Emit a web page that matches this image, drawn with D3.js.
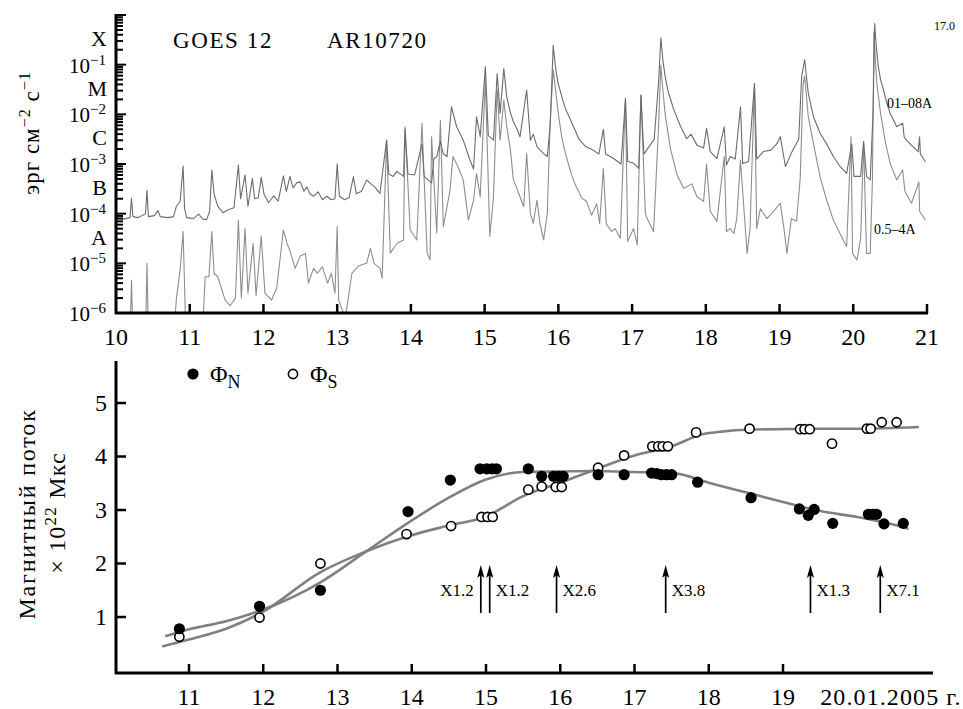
<!DOCTYPE html>
<html>
<head>
<meta charset="utf-8">
<script src="https://cdn.jsdelivr.net/npm/d3@7/dist/d3.min.js"></script>
<style>
  html, body { margin: 0; padding: 0; background: #fff; }
  svg { display: block; }
  text { font-family: "Liberation Serif", "Times New Roman", serif; fill: #000; }
</style>
</head>
<body>
<svg id="chart" width="963" height="709"></svg>
<script>
// ---------- GOES 12 X-ray flux: [day of January 2005, log10 flux in erg cm^-2 s^-1] ----------
const longChannel = [[10.00,-4.09],[10.10,-4.11],[10.19,-4.08],[10.21,-3.69],[10.23,-4.06],[10.30,-4.08],[10.40,-4.00],[10.42,-3.53],[10.44,-4.06],[10.52,-4.04],[10.57,-3.94],[10.60,-4.06],[10.70,-4.08],[10.78,-4.06],[10.82,-3.85],[10.87,-3.75],[10.91,-3.04],[10.93,-3.90],[10.96,-4.08],[11.05,-4.10],[11.12,-4.01],[11.18,-4.11],[11.23,-4.12],[11.27,-3.95],[11.30,-3.12],[11.33,-3.60],[11.38,-3.85],[11.45,-3.98],[11.52,-3.92],[11.60,-3.88],[11.66,-3.02],[11.69,-3.70],[11.75,-3.22],[11.79,-3.85],[11.85,-3.29],[11.88,-3.70],[11.93,-3.68],[11.97,-3.27],[12.01,-3.62],[12.07,-3.78],[12.14,-3.64],[12.20,-3.75],[12.27,-3.24],[12.31,-3.55],[12.36,-3.25],[12.40,-3.48],[12.45,-3.38],[12.50,-3.36],[12.55,-3.55],[12.59,-3.46],[12.63,-3.60],[12.68,-3.65],[12.74,-3.56],[12.80,-3.72],[12.86,-3.65],[12.92,-3.72],[12.97,-3.70],[13.00,-3.00],[13.03,-3.65],[13.10,-3.72],[13.16,-3.68],[13.22,-3.26],[13.26,-3.60],[13.33,-3.55],[13.40,-3.32],[13.45,-3.39],[13.52,-3.48],[13.58,-3.59],[13.67,-2.52],[13.70,-3.20],[13.76,-3.25],[13.81,-3.15],[13.90,-3.25],[13.92,-2.30],[13.96,-3.20],[14.05,-3.22],[14.15,-2.60],[14.18,-3.25],[14.28,-3.38],[14.31,-2.90],[14.35,-2.85],[14.40,-2.55],[14.44,-2.80],[14.49,-2.85],[14.55,-1.85],[14.62,-2.25],[14.71,-2.52],[14.80,-2.92],[14.85,-3.10],[14.89,-2.05],[14.94,-2.45],[15.01,-1.04],[15.05,-2.43],[15.12,-2.52],[15.17,-1.18],[15.21,-1.98],[15.26,-1.08],[15.30,-1.65],[15.35,-1.97],[15.39,-2.15],[15.44,-2.30],[15.48,-2.45],[15.57,-1.51],[15.62,-2.52],[15.66,-2.40],[15.71,-2.65],[15.80,-2.79],[15.85,-2.85],[15.89,-2.20],[15.93,-0.61],[15.95,-0.90],[15.97,-1.15],[16.00,-1.40],[16.03,-1.55],[16.06,-1.72],[16.10,-1.90],[16.14,-2.03],[16.19,-2.20],[16.23,-2.33],[16.28,-2.50],[16.37,-2.65],[16.47,-2.72],[16.55,-2.80],[16.61,-2.30],[16.64,-2.80],[16.75,-2.89],[16.85,-3.00],[16.91,-1.68],[16.94,-2.95],[17.02,-2.98],[17.09,-3.09],[17.12,-1.61],[17.16,-2.80],[17.23,-2.65],[17.30,-2.50],[17.36,-1.34],[17.39,-0.46],[17.42,-0.94],[17.45,-1.25],[17.49,-1.55],[17.56,-1.88],[17.65,-2.22],[17.74,-2.49],[17.80,-2.40],[17.88,-2.62],[17.97,-2.68],[18.01,-2.28],[18.06,-2.75],[18.15,-2.89],[18.25,-2.25],[18.28,-3.02],[18.33,-2.85],[18.40,-2.90],[18.47,-1.85],[18.50,-2.99],[18.58,-2.95],[18.66,-1.38],[18.69,-2.90],[18.78,-2.75],[18.88,-2.72],[18.96,-2.60],[19.01,-2.45],[19.08,-3.05],[19.17,-2.75],[19.26,-2.50],[19.30,-1.24],[19.34,-0.90],[19.39,-1.58],[19.46,-2.05],[19.55,-2.38],[19.64,-2.60],[19.73,-2.85],[19.82,-3.05],[19.91,-3.19],[19.98,-2.60],[20.01,-3.25],[20.10,-3.25],[20.14,-2.55],[20.18,-3.25],[20.23,-3.32],[20.27,-1.90],[20.29,-0.17],[20.31,-0.60],[20.34,-1.04],[20.37,-1.30],[20.41,-1.51],[20.45,-1.75],[20.50,-1.98],[20.59,-2.25],[20.67,-2.18],[20.69,-2.45],[20.72,-2.52],[20.81,-2.65],[20.88,-2.75],[20.90,-2.45],[20.91,-2.80],[20.98,-2.96]];

const shortChannel = [[10.00,-6.5],[10.19,-6.5],[10.21,-5.34],[10.23,-6.5],[10.40,-6.5],[10.42,-5.00],[10.44,-6.5],[10.78,-6.5],[10.82,-5.70],[10.87,-5.13],[10.91,-4.36],[10.94,-6.00],[10.97,-6.5],[11.17,-6.5],[11.21,-5.27],[11.26,-5.27],[11.30,-4.36],[11.33,-5.20],[11.38,-5.27],[11.43,-5.50],[11.48,-5.74],[11.55,-5.85],[11.62,-5.70],[11.66,-4.13],[11.70,-5.70],[11.75,-4.30],[11.79,-5.60],[11.86,-4.60],[11.90,-5.65],[11.97,-4.45],[12.02,-5.60],[12.11,-5.74],[12.18,-5.50],[12.27,-4.33],[12.32,-4.60],[12.36,-4.75],[12.43,-5.10],[12.50,-4.85],[12.57,-4.80],[12.61,-5.40],[12.68,-5.10],[12.73,-5.20],[12.80,-5.07],[12.87,-5.40],[12.92,-5.20],[12.97,-5.60],[13.00,-4.26],[13.02,-5.74],[13.11,-6.10],[13.20,-5.20],[13.29,-5.05],[13.40,-5.00],[13.45,-4.70],[13.50,-5.00],[13.58,-5.10],[13.61,-5.30],[13.67,-2.52],[13.72,-4.79],[13.81,-4.60],[13.90,-4.53],[13.92,-2.25],[13.99,-4.33],[14.08,-4.53],[14.15,-2.18],[14.22,-4.79],[14.26,-4.93],[14.28,-2.45],[14.35,-4.39],[14.40,-2.12],[14.44,-4.26],[14.49,-3.86],[14.53,-3.53],[14.57,-2.85],[14.64,-3.06],[14.71,-3.32],[14.78,-4.13],[14.85,-3.73],[14.89,-3.19],[14.94,-3.66],[15.01,-1.30],[15.07,-4.46],[15.12,-3.66],[15.17,-1.50],[15.21,-2.52],[15.26,-1.71],[15.30,-2.25],[15.35,-2.72],[15.39,-3.32],[15.44,-3.50],[15.48,-3.66],[15.53,-3.86],[15.57,-2.79],[15.62,-3.99],[15.66,-4.19],[15.71,-3.73],[15.75,-4.19],[15.80,-4.53],[15.85,-3.99],[15.89,-2.12],[15.93,-1.11],[15.95,-1.35],[15.98,-1.75],[16.01,-2.10],[16.05,-2.49],[16.09,-2.75],[16.14,-3.02],[16.18,-3.22],[16.23,-3.42],[16.32,-3.69],[16.38,-3.75],[16.45,-4.03],[16.52,-3.80],[16.56,-4.20],[16.61,-3.09],[16.65,-4.20],[16.72,-4.36],[16.77,-4.30],[16.84,-4.50],[16.91,-1.68],[16.94,-4.56],[17.02,-4.30],[17.07,-4.63],[17.12,-1.61],[17.18,-4.00],[17.22,-4.15],[17.29,-4.36],[17.31,-3.80],[17.36,-2.20],[17.39,-1.01],[17.42,-1.55],[17.45,-2.02],[17.52,-2.69],[17.61,-3.22],[17.70,-3.49],[17.81,-3.40],[17.88,-3.66],[17.97,-3.75],[18.01,-3.00],[18.06,-3.95],[18.15,-4.16],[18.25,-2.85],[18.28,-4.36],[18.33,-4.30],[18.38,-4.40],[18.42,-4.10],[18.47,-2.92],[18.56,-4.80],[18.60,-4.30],[18.66,-1.38],[18.69,-4.30],[18.74,-3.90],[18.83,-4.10],[18.92,-3.95],[19.01,-3.79],[19.06,-4.30],[19.10,-4.80],[19.16,-4.10],[19.23,-4.15],[19.28,-3.30],[19.32,-1.38],[19.34,-1.23],[19.39,-2.05],[19.46,-2.59],[19.55,-3.26],[19.64,-3.73],[19.73,-4.13],[19.82,-4.40],[19.91,-4.66],[19.97,-2.45],[19.99,-4.80],[20.05,-4.93],[20.10,-4.50],[20.14,-2.55],[20.18,-4.80],[20.23,-4.80],[20.26,-3.30],[20.28,-0.34],[20.30,-0.90],[20.32,-1.38],[20.37,-1.98],[20.43,-2.52],[20.50,-2.99],[20.59,-3.32],[20.67,-3.12],[20.70,-3.55],[20.79,-3.79],[20.89,-3.36],[20.90,-3.95],[20.98,-4.13]];

const fluxDecades = [-1, -2, -3, -4, -5, -6];
const flareClasses = [["X", -0.5], ["M", -1.5], ["C", -2.5], ["B", -3.5], ["A", -4.5]];
const topDayTicks = [10, 11, 12, 13, 14, 15, 16, 17, 18, 19, 20, 21];

// ---------- Magnetic flux of the northern and southern polarity, 10^22 Mx ----------
const northDays = [10.87, 11.95, 12.77, 13.95, 14.52, 14.92, 15.01, 15.08, 15.14, 15.57, 15.75, 15.91, 15.98, 16.04, 16.51, 16.86, 17.23, 17.30, 17.36, 17.43, 17.50, 17.85, 18.57, 19.22, 19.34, 19.42, 19.67, 20.15, 20.21, 20.26, 20.36, 20.62];
const northFlux = [0.78, 1.20, 1.50, 2.97, 3.56, 3.77, 3.77, 3.77, 3.77, 3.77, 3.63, 3.63, 3.63, 3.63, 3.66, 3.66, 3.69, 3.68, 3.66, 3.66, 3.66, 3.52, 3.23, 3.02, 2.90, 3.01, 2.75, 2.92, 2.92, 2.92, 2.74, 2.75];
const southDays = [10.87, 11.95, 12.77, 13.93, 14.53, 14.94, 15.02, 15.09, 15.57, 15.75, 15.94, 16.02, 16.51, 16.86, 17.24, 17.32, 17.38, 17.45, 17.83, 18.55, 19.23, 19.29, 19.36, 19.66, 20.13, 20.18, 20.33, 20.53];
const southFlux = [0.63, 0.99, 2.00, 2.55, 2.70, 2.87, 2.87, 2.87, 3.38, 3.44, 3.43, 3.43, 3.79, 4.02, 4.19, 4.19, 4.19, 4.19, 4.45, 4.52, 4.51, 4.51, 4.51, 4.24, 4.52, 4.52, 4.64, 4.64];

// smoothed trends drawn through each polarity
const northFitDays = [10.68, 11.0, 11.5, 12.0, 12.76, 13.39, 13.95, 14.5, 15.0, 15.5, 16.0, 16.42, 17.0, 17.56, 18.0, 18.5, 19.0, 19.5, 20.0, 20.36, 20.69];
const northFitFlux = [0.64, 0.77, 0.92, 1.14, 1.64, 2.23, 2.76, 3.23, 3.57, 3.71, 3.72, 3.73, 3.71, 3.68, 3.51, 3.33, 3.15, 2.98, 2.87, 2.77, 2.65];
const southFitDays = [10.64, 11.0, 11.5, 12.0, 12.76, 13.39, 13.95, 14.5, 15.0, 15.5, 16.0, 16.42, 17.0, 17.5, 17.9, 18.2, 18.5, 19.5, 20.0, 20.83];
const southFitFlux = [0.45, 0.58, 0.78, 1.10, 1.83, 2.23, 2.51, 2.71, 2.88, 3.26, 3.51, 3.73, 4.02, 4.19, 4.41, 4.47, 4.50, 4.52, 4.52, 4.55];

// X-class flares marked by arrows
const flareDays = [14.93, 15.05, 15.95, 17.42, 19.37, 20.31];
const flareNames = ["X1.2", "X1.2", "X2.6", "X3.8", "X1.3", "X7.1"];
const flareLabelSide = ["left", "right", "right", "right", "right", "right"];

const bottomDayTicks = [11, 12, 13, 14, 15, 16, 17, 18, 19];
const fluxTicks = [1, 2, 3, 4, 5];

// ===================================================================
const svg = d3.select("#chart");
const GRAY_LONG = "#6c6c6c", GRAY_SHORT = "#8e8e8e", FIT = "#808080";

// ---------------- Upper panel: GOES X-ray flux ----------------
const xTop = d3.scaleLinear().domain([10, 21]).range([116, 927]);
const yTop = d3.scaleLog().domain([1e-6, 1]).range([313, 15]);

svg.append("defs").append("clipPath").attr("id", "topClip")
  .append("rect").attr("x", 116).attr("y", 12).attr("width", 811).attr("height", 301);

const fluxLine = d3.line()
  .x(d => xTop(d[0]))
  .y(d => yTop(Math.pow(10, d[1])));

const gPlot = svg.append("g").attr("clip-path", "url(#topClip)");
gPlot.append("path")
  .attr("d", fluxLine(shortChannel))
  .attr("fill", "none").attr("stroke", GRAY_SHORT).attr("stroke-width", 1.1)
  .attr("stroke-linejoin", "round");
gPlot.append("path")
  .attr("d", fluxLine(longChannel))
  .attr("fill", "none").attr("stroke", GRAY_LONG).attr("stroke-width", 1.1)
  .attr("stroke-linejoin", "round");

// left log axis with minor ticks pointing inward
const yTicks = yTop.ticks();
const gYT = svg.append("g");
gYT.selectAll("line.tk").data(yTicks).join("line")
  .attr("x1", 116)
  .attr("x2", d => Math.abs(Math.log10(d) - Math.round(Math.log10(d))) < 1e-9 ? 126 : 123)
  .attr("y1", d => yTop(d)).attr("y2", d => yTop(d))
  .attr("stroke", "#000").attr("stroke-width", 2);
gYT.append("line").attr("x1", 116).attr("x2", 116).attr("y1", 14).attr("y2", 314)
  .attr("stroke", "#000").attr("stroke-width", 3);

gYT.selectAll("text.dec").data(fluxDecades).join("text")
  .attr("class", "dec")
  .attr("x", 106).attr("y", d => yTop(Math.pow(10, d)) + 8)
  .attr("text-anchor", "end").attr("font-size", 21)
  .each(function (d) {
    const t = d3.select(this);
    t.append("tspan").text("10");
    t.append("tspan").attr("dy", -8).attr("font-size", 15).text("\u2212" + Math.abs(d));
  });

gYT.selectAll("text.cls").data(flareClasses).join("text")
  .attr("x", 107).attr("y", d => yTop(Math.pow(10, d[1])) + 6)
  .attr("text-anchor", "end").attr("font-size", 22)
  .text(d => d[0]);

// axis title
const yTitle = svg.append("text")
  .attr("transform", "translate(39,133) rotate(-90)")
  .attr("text-anchor", "middle").attr("font-size", 23)
  .attr("letter-spacing", 1);
yTitle.append("tspan").text("эрг см");
yTitle.append("tspan").attr("dy", -9).attr("font-size", 16).text("\u22122");
yTitle.append("tspan").attr("dy", 9).text(" с");
yTitle.append("tspan").attr("dy", -9).attr("font-size", 16).text("\u22121");

// bottom axis of upper panel
const gXT = svg.append("g");
gXT.append("line").attr("x1", 115).attr("x2", 928).attr("y1", 313).attr("y2", 313)
  .attr("stroke", "#000").attr("stroke-width", 3);
gXT.selectAll("line.tk").data(topDayTicks.filter(d => d > 10)).join("line")
  .attr("x1", d => xTop(d)).attr("x2", d => xTop(d))
  .attr("y1", 313).attr("y2", 304)
  .attr("stroke", "#000").attr("stroke-width", 2.5);
gXT.selectAll("text").data(topDayTicks).join("text")
  .attr("x", d => xTop(d)).attr("y", 345)
  .attr("text-anchor", "middle").attr("font-size", 24)
  .text(d => d);

svg.append("text").attr("x", 173).attr("y", 48).attr("font-size", 23)
  .attr("letter-spacing", 1.6).text("GOES 12");
svg.append("text").attr("x", 327).attr("y", 48).attr("font-size", 23)
  .attr("letter-spacing", 1.6).text("AR10720");
svg.append("text").attr("x", 934).attr("y", 30).attr("font-size", 12).text("17.0");
svg.append("text").attr("x", 887).attr("y", 108).attr("font-size", 14).text("01\u201308A");
svg.append("text").attr("x", 874).attr("y", 234).attr("font-size", 14).text("0.5\u20134A");

// ---------------- Lower panel: magnetic flux ----------------
const xBot = d3.scaleLinear().domain([10, 21]).range([114.75, 931.5]);
const yBot = d3.scaleLinear().domain([0, 5.785]).range([670.5, 361]);

const fitLine = d3.line().curve(d3.curveMonotoneX)
  .x(d => xBot(d[0])).y(d => yBot(d[1]));

svg.append("path")
  .attr("d", fitLine(northFitDays.map((d, i) => [d, northFitFlux[i]])))
  .attr("fill", "none").attr("stroke", FIT).attr("stroke-width", 2.6);
svg.append("path")
  .attr("d", fitLine(southFitDays.map((d, i) => [d, southFitFlux[i]])))
  .attr("fill", "none").attr("stroke", FIT).attr("stroke-width", 2.6);

svg.append("g").selectAll("circle")
  .data(southDays.map((d, i) => [d, southFlux[i]])).join("circle")
  .attr("cx", d => xBot(d[0])).attr("cy", d => yBot(d[1])).attr("r", 4.6)
  .attr("fill", "#fff").attr("stroke", "#000").attr("stroke-width", 1.6);
svg.append("g").selectAll("circle")
  .data(northDays.map((d, i) => [d, northFlux[i]])).join("circle")
  .attr("cx", d => xBot(d[0])).attr("cy", d => yBot(d[1])).attr("r", 5.6)
  .attr("fill", "#000");

// flare arrows
const gAr = svg.append("g");
flareDays.forEach((d, i) => {
  const x = xBot(d);
  gAr.append("line").attr("x1", x).attr("x2", x).attr("y1", 613).attr("y2", 574)
    .attr("stroke", "#000").attr("stroke-width", 1.7);
  gAr.append("path")
    .attr("d", `M${x},565 L${x + 3.6},578 L${x},575 L${x - 3.6},578 Z`)
    .attr("fill", "#000");
  const left = flareLabelSide[i] === "left";
  gAr.append("text")
    .attr("x", left ? x - 7 : x + 6).attr("y", 596)
    .attr("text-anchor", left ? "end" : "start").attr("font-size", 17)
    .text(flareNames[i]);
});

// axes
const gYB = svg.append("g");
gYB.append("line").attr("x1", 116).attr("x2", 116).attr("y1", 361).attr("y2", 674)
  .attr("stroke", "#000").attr("stroke-width", 3);
gYB.selectAll("line.tk").data(fluxTicks).join("line")
  .attr("x1", 116).attr("x2", 126)
  .attr("y1", d => yBot(d)).attr("y2", d => yBot(d))
  .attr("stroke", "#000").attr("stroke-width", 2.5);
gYB.selectAll("text").data(fluxTicks).join("text")
  .attr("x", 107).attr("y", d => yBot(d) + 8)
  .attr("text-anchor", "end").attr("font-size", 24).text(d => d);

const gXB = svg.append("g");
gXB.append("line").attr("x1", 115).attr("x2", 933).attr("y1", 673).attr("y2", 673)
  .attr("stroke", "#000").attr("stroke-width", 3);
gXB.selectAll("line.tk").data(bottomDayTicks).join("line")
  .attr("x1", d => xBot(d)).attr("x2", d => xBot(d))
  .attr("y1", 673).attr("y2", 664)
  .attr("stroke", "#000").attr("stroke-width", 2.5);
gXB.selectAll("text").data(bottomDayTicks).join("text")
  .attr("x", d => xBot(d)).attr("y", 705)
  .attr("text-anchor", "middle").attr("font-size", 24).text(d => d);
gXB.append("text").attr("x", xBot(20) - 37).attr("y", 705)
  .attr("font-size", 24).attr("letter-spacing", 1.1).text("20.01.2005 г.");

// axis title
svg.append("text").attr("transform", "translate(35,514) rotate(-90)")
  .attr("text-anchor", "middle").attr("font-size", 24)
  .attr("letter-spacing", 1.8).text("Магнитный поток");
const yt2 = svg.append("text").attr("transform", "translate(65,513) rotate(-90)")
  .attr("text-anchor", "middle").attr("font-size", 24).attr("letter-spacing", 1.2);
yt2.append("tspan").text("× 10");
yt2.append("tspan").attr("dy", -9).attr("font-size", 17).text("22");
yt2.append("tspan").attr("dy", 9).text(" Мкс");

// legend
const gLeg = svg.append("g");
gLeg.append("circle").attr("cx", 193).attr("cy", 374).attr("r", 5.6).attr("fill", "#000");
const lN = gLeg.append("text").attr("x", 210).attr("y", 382).attr("font-size", 24);
lN.append("tspan").text("Φ");
lN.append("tspan").attr("dy", 6).attr("font-size", 18).text("N");
gLeg.append("circle").attr("cx", 293).attr("cy", 374).attr("r", 4.6)
  .attr("fill", "#fff").attr("stroke", "#000").attr("stroke-width", 1.6);
const lS = gLeg.append("text").attr("x", 310).attr("y", 382).attr("font-size", 24);
lS.append("tspan").text("Φ");
lS.append("tspan").attr("dy", 6).attr("font-size", 18).text("S");
</script>
</body>
</html>
